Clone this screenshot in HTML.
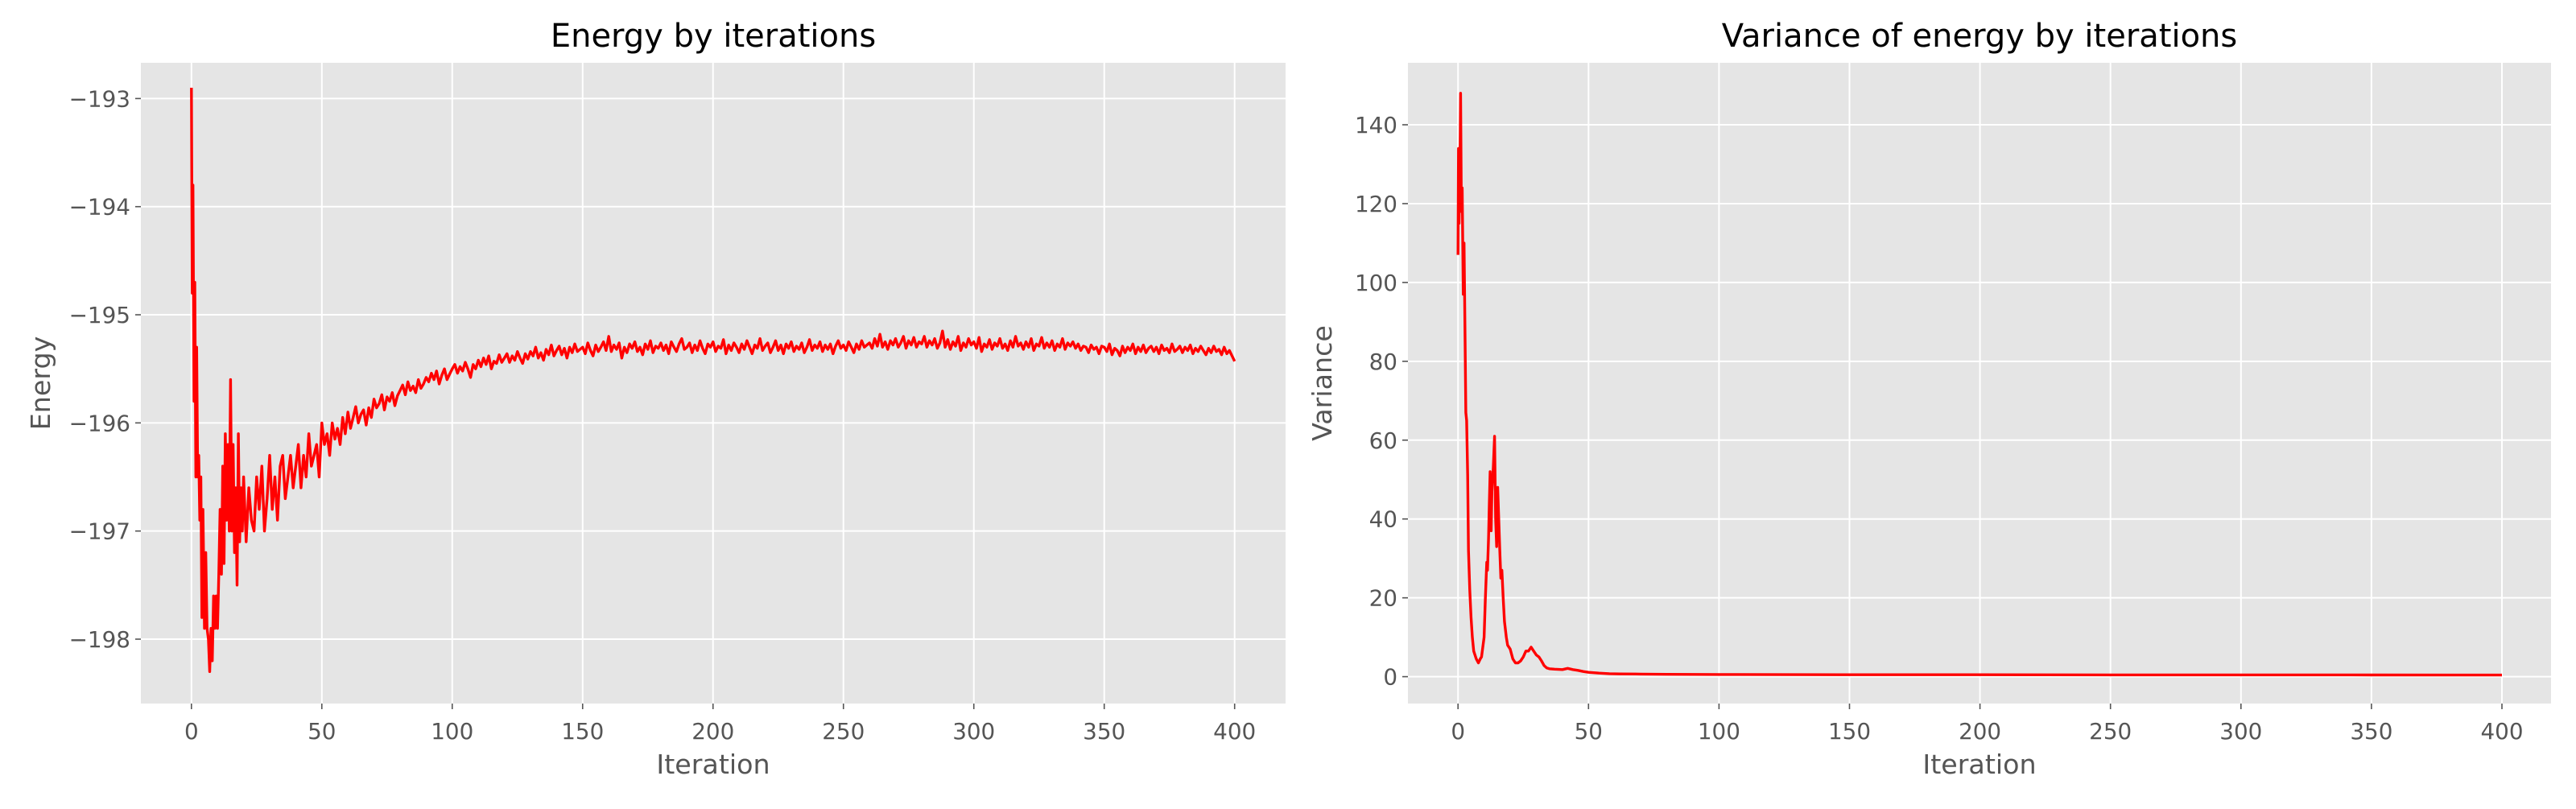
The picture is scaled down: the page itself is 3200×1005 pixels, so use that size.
<!DOCTYPE html>
<html><head><meta charset="utf-8"><style>
html,body{margin:0;padding:0;background:#fff;}
svg text{font-family:"DejaVu Sans","Liberation Sans",sans-serif;}
</style></head><body>
<svg id="fig" width="3200" height="1000" xmlns="http://www.w3.org/2000/svg"></svg>
<script>
const energyEarlyX=[0,0.3,0.6,1,1.3,1.7,2,2.4,2.8,3.2,3.6,4,4.4,5,5.5,6,6.5,7,7.5,8,8.5,9,9.5,10,10.5,11,11.5,12,12.5,13,13.5,14,14.5,15,15.5,16,16.5,17,17.5,18,18.5,19,19.5];
const energyEarlyY=[-192.9,-194.8,-193.8,-195.8,-194.7,-196.5,-195.3,-196.5,-196.3,-196.9,-196.5,-197.8,-196.8,-197.9,-197.2,-197.9,-198.0,-198.3,-197.9,-198.2,-197.6,-197.9,-197.6,-197.9,-197.4,-196.8,-197.4,-196.4,-197.3,-196.1,-196.9,-196.2,-197.0,-195.6,-197.0,-196.2,-197.2,-196.6,-197.5,-196.1,-197.1,-196.6,-197.0];
const energyLateStart=20, energyLateStep=1;
const energyLateY=[
-196.5,-197.1,-196.6,-196.9,-197.0,-196.5,-196.8,-196.4,-197.0,-196.7,
-196.3,-196.8,-196.5,-196.9,-196.4,-196.3,-196.7,-196.5,-196.3,-196.6,
-196.4,-196.2,-196.6,-196.3,-196.5,-196.1,-196.4,-196.3,-196.2,-196.5,
-196.0,-196.2,-196.1,-196.3,-196.0,-196.15,-196.05,-196.2,-195.95,-196.1,
-195.9,-196.05,-195.95,-195.85,-196.0,-195.92,-195.88,-196.02,-195.86,-195.95,
-195.78,-195.86,-195.82,-195.74,-195.88,-195.76,-195.8,-195.72,-195.84,-195.75,
-195.7,-195.65,-195.74,-195.62,-195.7,-195.66,-195.72,-195.6,-195.68,-195.64,
-195.58,-195.62,-195.54,-195.6,-195.52,-195.64,-195.56,-195.5,-195.6,-195.55,
-195.5,-195.46,-195.54,-195.48,-195.52,-195.44,-195.5,-195.58,-195.46,-195.5,
-195.42,-195.48,-195.4,-195.46,-195.38,-195.5,-195.43,-195.45,-195.37,-195.44,
-195.4,-195.36,-195.44,-195.38,-195.42,-195.34,-195.4,-195.45,-195.36,-195.41,
-195.34,-195.38,-195.3,-195.4,-195.35,-195.42,-195.32,-195.37,-195.28,-195.38,
-195.33,-195.29,-195.37,-195.31,-195.4,-195.3,-195.35,-195.27,-195.34,-195.32,
-195.3,-195.36,-195.26,-195.33,-195.38,-195.28,-195.34,-195.3,-195.25,-195.33,
-195.2,-195.34,-195.28,-195.32,-195.26,-195.4,-195.3,-195.35,-195.27,-195.31,
-195.25,-195.34,-195.3,-195.37,-195.27,-195.32,-195.24,-195.35,-195.29,-195.31,
-195.26,-195.33,-195.28,-195.36,-195.25,-195.3,-195.34,-195.27,-195.22,-195.32,
-195.3,-195.26,-195.35,-195.28,-195.33,-195.24,-195.31,-195.36,-195.27,-195.3,
-195.25,-195.34,-195.29,-195.31,-195.23,-195.36,-195.28,-195.33,-195.26,-195.3,
-195.35,-195.27,-195.32,-195.24,-195.3,-195.36,-195.28,-195.31,-195.22,-195.33,
-195.29,-195.26,-195.35,-195.3,-195.24,-195.33,-195.28,-195.36,-195.27,-195.31,
-195.25,-195.34,-195.29,-195.32,-195.26,-195.35,-195.3,-195.23,-195.33,-195.28,
-195.31,-195.25,-195.34,-195.28,-195.32,-195.27,-195.36,-195.29,-195.24,-195.31,
-195.28,-195.33,-195.25,-195.3,-195.35,-195.27,-195.32,-195.24,-195.3,-195.28,
-195.26,-195.31,-195.22,-195.29,-195.18,-195.3,-195.25,-195.32,-195.24,-195.28,
-195.22,-195.3,-195.26,-195.2,-195.31,-195.24,-195.28,-195.21,-195.3,-195.25,
-195.27,-195.2,-195.3,-195.24,-195.28,-195.22,-195.31,-195.26,-195.15,-195.3,
-195.23,-195.32,-195.25,-195.29,-195.2,-195.33,-195.26,-195.3,-195.22,-195.28,
-195.25,-195.31,-195.21,-195.34,-195.27,-195.3,-195.23,-195.32,-195.26,-195.29,
-195.22,-195.31,-195.27,-195.33,-195.24,-195.3,-195.2,-195.29,-195.26,-195.32,
-195.25,-195.3,-195.22,-195.33,-195.27,-195.29,-195.21,-195.31,-195.26,-195.3,
-195.24,-195.33,-195.27,-195.3,-195.22,-195.32,-195.26,-195.29,-195.25,-195.31,
-195.27,-195.33,-195.29,-195.3,-195.35,-195.28,-195.32,-195.3,-195.36,-195.29,
-195.3,-195.34,-195.27,-195.37,-195.31,-195.33,-195.38,-195.29,-195.35,-195.3,
-195.33,-195.27,-195.36,-195.3,-195.34,-195.28,-195.35,-195.31,-195.29,-195.34,
-195.3,-195.36,-195.28,-195.33,-195.31,-195.35,-195.27,-195.34,-195.32,-195.29,
-195.35,-195.3,-195.33,-195.28,-195.36,-195.31,-195.34,-195.29,-195.33,-195.37,
-195.31,-195.35,-195.29,-195.34,-195.32,-195.37,-195.3,-195.36,-195.33,-195.38,
-195.43];
const varX=[0,0.2,0.4,0.7,1,1.3,1.6,2,2.3,2.7,3,3.3,3.7,4,4.5,5,5.5,6,7,7.8,8.5,9,10,10.5,11,11.3,11.7,12,12.3,12.7,13,13.5,14,14.4,14.8,15.2,15.6,16,16.4,16.8,17.3,17.8,18.5,19,20,21,22,23,24,25,26,27,28,29,30,31,32,33,34,35,37,40,42,44,46,48,50,54,58,62,70,80,100,150,200,250,300,350,400];
const varY=[107,134,115,128,148,118,124,97,110,85,67,65,51,32,22,15,10,6.5,4.5,3.5,4.5,5,10,20,29,27,35,44,52,37,47,53,61,40,33,48,40,32,25,27,20,14,10,8,7,4.5,3.5,3.5,4,5,6.5,6.5,7.5,6.5,5.5,5,4,2.8,2.2,2,1.9,1.8,2.1,1.8,1.6,1.3,1.1,0.9,0.75,0.7,0.65,0.6,0.55,0.5,0.5,0.45,0.45,0.42,0.4];
const xTicks=[0,50,100,150,200,250,300,350,400];
const energyTicks=[-193,-194,-195,-196,-197,-198];
const varTicks=[0,20,40,60,80,100,120,140];

const NS="http://www.w3.org/2000/svg";
const svg=document.getElementById('fig');
function mk(tag,attrs,parent){const e=document.createElementNS(NS,tag);for(const k in attrs)e.setAttribute(k,attrs[k]);(parent||svg).appendChild(e);return e;}

function panel(cfg){
  const g=mk('g',{});
  
  
  const sx=v=>cfg.x0px+(v-0)*(cfg.x400px-cfg.x0px)/400;
  const sy=v=>cfg.ya+(v-cfg.yaVal)*(cfg.yb-cfg.ya)/(cfg.ybVal-cfg.yaVal);
  const bg=mk('rect',{x:cfg.L,y:cfg.T,width:cfg.R-cfg.L,height:cfg.B-cfg.T,fill:'#e5e5e5'},g);
  
  
  xTicks.forEach(t=>{
    const x=sx(t);
    const gl=mk('line',{x1:x,x2:x,y1:cfg.T,y2:cfg.B,stroke:'#fff',"stroke-width":2},g);
    
    
    mk('line',{x1:x,x2:x,y1:cfg.B,y2:cfg.B+7,stroke:'#555',"stroke-width":1.6},g);
    const tx=mk('text',{x:x,y:cfg.B+44,"text-anchor":"middle","font-size":27.8,fill:'#555'},g);
    tx.textContent=t;
    
    
  });
  cfg.yTicks.forEach(t=>{
    const y=sy(t);
    const gl=mk('line',{x1:cfg.L,x2:cfg.R,y1:y,y2:y,stroke:'#fff',"stroke-width":2},g);
    
    
    mk('line',{x1:cfg.L-7,x2:cfg.L,y1:y,y2:y,stroke:'#555',"stroke-width":1.6},g);
    const tx=mk('text',{x:cfg.L-13,y:y+10,"text-anchor":"end","font-size":27.8,fill:'#555'},g);
    tx.textContent=(t<0?'\u2212'+(-t):t);
    
    
  });
  let d='';
  cfg.xs.forEach((v,i)=>{d+=(i?'L':'M')+sx(v).toFixed(1)+' '+sy(cfg.ys[i]).toFixed(1);});
  const p=mk('path',{d:d,fill:'none',stroke:'#ff0000',"stroke-width":3.4,"stroke-linejoin":"round"},g);
  
  
  const ti=mk('text',{x:(cfg.L+cfg.R)/2,y:58,"text-anchor":"middle","font-size":40,fill:'#000'},g);
  ti.textContent=cfg.title;
  
  
  const xl=mk('text',{x:(cfg.L+cfg.R)/2,y:961,"text-anchor":"middle","font-size":33.3,fill:'#555'},g);
  xl.textContent='Iteration';
  
  
  const yl=mk('text',{x:0,y:0,"text-anchor":"middle","font-size":33.3,fill:'#555',transform:`translate(${cfg.ylx},${(cfg.T+cfg.B)/2}) rotate(-90)`},g);
  yl.textContent=cfg.ylabel;
  
  
}

const eX=energyEarlyX.slice(), eY=energyEarlyY.slice();
energyLateY.forEach((v,i)=>{eX.push(energyLateStart+i*energyLateStep);eY.push(v);});

panel({name:'energy-panel',seriesName:'energy-line',title:'Energy by iterations',ylabel:'Energy',
  L:175,R:1597,T:78,B:874,x0px:237.8,x400px:1533.7,ya:122.4,yaVal:-193,yb:794,ybVal:-198,
  yTicks:energyTicks,xs:eX,ys:eY,ylx:62});
panel({name:'variance-panel',seriesName:'variance-line',title:'Variance of energy by iterations',ylabel:'Variance',
  L:1749,R:3169,T:78,B:874,x0px:1811.2,x400px:3108,ya:840.6,yaVal:0,yb:155,ybVal:140,
  yTicks:varTicks,xs:varX,ys:varY,ylx:1654});
</script>
</body></html>
